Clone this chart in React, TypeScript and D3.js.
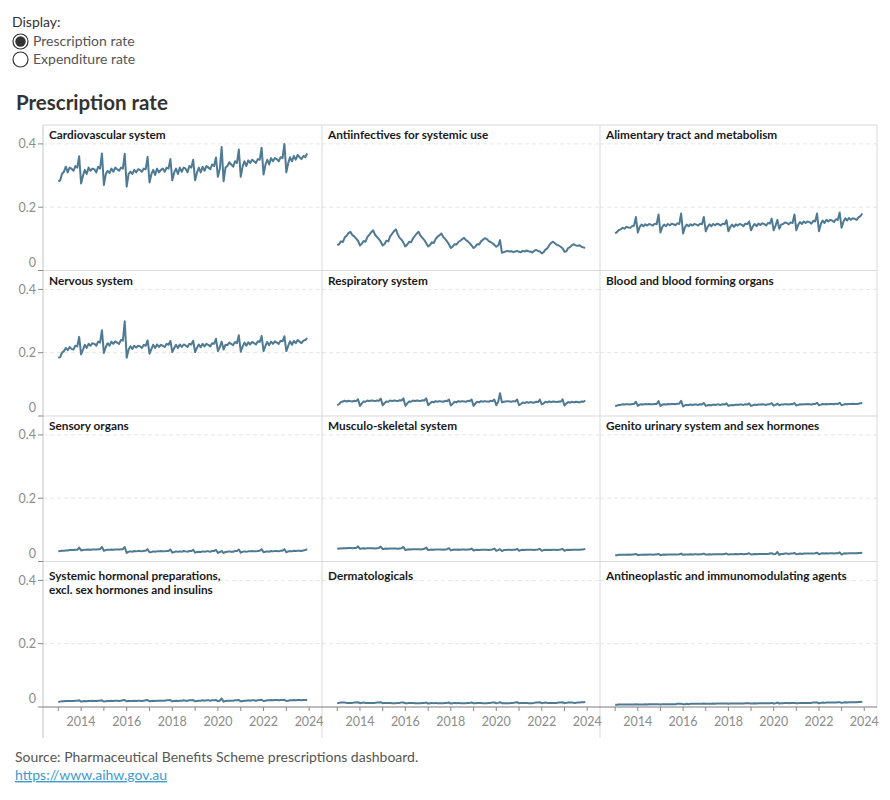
import React from 'react';
import * as d3 from 'd3';

// Monthly prescription rate, Jan 2013 – Dec 2023, one row per year
const cardiovascular = [
  0.282, 0.285, 0.305, 0.312, 0.328, 0.31, 0.325, 0.322, 0.315, 0.33, 0.325, 0.361,
  0.275, 0.3, 0.318, 0.305, 0.325, 0.315, 0.322, 0.32, 0.31, 0.328, 0.322, 0.37,
  0.27, 0.305, 0.315, 0.308, 0.322, 0.312, 0.325, 0.32, 0.315, 0.325, 0.322, 0.369,
  0.265, 0.305, 0.312, 0.305, 0.318, 0.31, 0.32, 0.318, 0.312, 0.322, 0.32, 0.359,
  0.278, 0.305, 0.318, 0.302, 0.322, 0.31, 0.318, 0.322, 0.312, 0.325, 0.322, 0.352,
  0.285, 0.31, 0.322, 0.305, 0.325, 0.312, 0.325, 0.322, 0.31, 0.33, 0.325, 0.35,
  0.285, 0.31, 0.325, 0.31, 0.328, 0.315, 0.33, 0.325, 0.32, 0.335, 0.33, 0.357,
  0.296, 0.322, 0.39, 0.282, 0.325, 0.33, 0.342, 0.335, 0.328, 0.345, 0.34, 0.382,
  0.296, 0.33, 0.345, 0.33, 0.348, 0.34, 0.35, 0.345, 0.34, 0.352, 0.35, 0.388,
  0.303, 0.335, 0.35, 0.335, 0.355, 0.345, 0.355, 0.352, 0.345, 0.358, 0.355, 0.4,
  0.31, 0.34, 0.358, 0.345, 0.362, 0.35, 0.365, 0.358, 0.352, 0.362, 0.358, 0.37,
];

const antiinfectives = [
  0.08, 0.083, 0.092, 0.09, 0.104, 0.11, 0.118, 0.122, 0.112, 0.108, 0.101, 0.094,
  0.079, 0.085, 0.093, 0.091, 0.106, 0.113, 0.121, 0.127, 0.113, 0.106, 0.099, 0.091,
  0.079, 0.084, 0.094, 0.092, 0.108, 0.116, 0.124, 0.13, 0.114, 0.103, 0.097, 0.088,
  0.076, 0.082, 0.091, 0.089, 0.101, 0.109, 0.117, 0.122, 0.11, 0.103, 0.096, 0.086,
  0.076, 0.081, 0.089, 0.087, 0.099, 0.107, 0.111, 0.117, 0.106, 0.1, 0.092, 0.083,
  0.071, 0.076, 0.083, 0.082, 0.09, 0.094, 0.099, 0.103, 0.096, 0.092, 0.086, 0.079,
  0.071, 0.076, 0.083, 0.082, 0.092, 0.097, 0.102, 0.1, 0.093, 0.09, 0.086, 0.081,
  0.075, 0.079, 0.096, 0.056, 0.058, 0.06, 0.062, 0.06, 0.061, 0.058, 0.06, 0.062,
  0.059, 0.058, 0.062, 0.06, 0.063, 0.061, 0.06, 0.057, 0.062, 0.065, 0.062, 0.06,
  0.054, 0.058, 0.066, 0.07, 0.08, 0.087, 0.091, 0.086, 0.081, 0.079, 0.075, 0.07,
  0.059, 0.061, 0.071, 0.074, 0.08, 0.083, 0.079, 0.078, 0.08, 0.075, 0.073, 0.072,
];

const alimentary = [
  0.117, 0.122, 0.128, 0.13, 0.135, 0.132, 0.138, 0.136, 0.135, 0.14, 0.142, 0.169,
  0.12, 0.138, 0.145, 0.14, 0.146, 0.142, 0.147, 0.145, 0.142, 0.148, 0.146, 0.177,
  0.12, 0.138, 0.145, 0.14, 0.147, 0.143, 0.148, 0.146, 0.143, 0.149, 0.147, 0.18,
  0.117, 0.137, 0.145, 0.14, 0.146, 0.142, 0.147, 0.145, 0.142, 0.148, 0.146, 0.169,
  0.124, 0.138, 0.146, 0.14, 0.147, 0.143, 0.148, 0.146, 0.142, 0.148, 0.146, 0.159,
  0.124, 0.138, 0.145, 0.138, 0.146, 0.142, 0.147, 0.145, 0.14, 0.148, 0.146, 0.155,
  0.127, 0.14, 0.147, 0.14, 0.148, 0.144, 0.149, 0.147, 0.142, 0.15, 0.148, 0.164,
  0.127, 0.142, 0.16, 0.132, 0.145, 0.147, 0.152, 0.15, 0.146, 0.152, 0.15, 0.177,
  0.127, 0.145, 0.153, 0.147, 0.155, 0.15, 0.155, 0.153, 0.148, 0.157, 0.155, 0.18,
  0.124, 0.148, 0.158, 0.15, 0.16, 0.155, 0.16, 0.158, 0.153, 0.162, 0.16, 0.183,
  0.135, 0.155, 0.165, 0.158, 0.166, 0.16, 0.165, 0.163, 0.16, 0.168, 0.172, 0.18,
];

const nervous = [
  0.184, 0.186, 0.2, 0.205, 0.215, 0.208, 0.218, 0.212, 0.21, 0.222, 0.22, 0.25,
  0.195, 0.21, 0.225, 0.215, 0.228, 0.222, 0.23, 0.228, 0.222, 0.235, 0.232, 0.271,
  0.199, 0.218, 0.23, 0.222, 0.235, 0.228, 0.236, 0.232, 0.228, 0.24, 0.238, 0.299,
  0.184, 0.21, 0.22, 0.212, 0.222, 0.216, 0.222, 0.22, 0.215, 0.225, 0.222, 0.239,
  0.197, 0.212, 0.225, 0.215, 0.226, 0.218, 0.225, 0.222, 0.218, 0.228, 0.225, 0.237,
  0.202, 0.215, 0.225, 0.215, 0.226, 0.218, 0.226, 0.223, 0.218, 0.228, 0.226, 0.238,
  0.202, 0.216, 0.226, 0.217, 0.228, 0.22, 0.228, 0.225, 0.22, 0.23, 0.228, 0.244,
  0.205, 0.218, 0.235, 0.21, 0.225, 0.224, 0.232, 0.228, 0.224, 0.234, 0.23, 0.255,
  0.203, 0.22, 0.232, 0.222, 0.233, 0.226, 0.234, 0.23, 0.226, 0.236, 0.234, 0.253,
  0.205, 0.222, 0.234, 0.224, 0.235, 0.228, 0.236, 0.232, 0.228, 0.238, 0.236, 0.252,
  0.205, 0.222, 0.236, 0.225, 0.237, 0.23, 0.24, 0.235, 0.23, 0.238, 0.24, 0.246,
];

const respiratory = [
  0.034, 0.038, 0.044, 0.046, 0.048, 0.046, 0.048, 0.047, 0.046, 0.048, 0.047, 0.053,
  0.032, 0.04, 0.046, 0.045, 0.049, 0.047, 0.049, 0.048, 0.047, 0.049, 0.048, 0.055,
  0.034, 0.041, 0.046, 0.045, 0.049, 0.047, 0.049, 0.048, 0.047, 0.05, 0.049, 0.056,
  0.032, 0.04, 0.046, 0.045, 0.049, 0.047, 0.049, 0.048, 0.047, 0.05, 0.049, 0.056,
  0.034, 0.04, 0.045, 0.043, 0.047, 0.045, 0.047, 0.046, 0.045, 0.048, 0.047, 0.052,
  0.033, 0.039, 0.045, 0.043, 0.047, 0.045, 0.047, 0.046, 0.045, 0.048, 0.047, 0.052,
  0.032, 0.04, 0.045, 0.043, 0.047, 0.045, 0.047, 0.046, 0.045, 0.048, 0.047, 0.052,
  0.034, 0.045, 0.072, 0.043, 0.045, 0.046, 0.047, 0.046, 0.045, 0.047, 0.046, 0.052,
  0.034, 0.038, 0.043, 0.041, 0.044, 0.042, 0.044, 0.043, 0.042, 0.045, 0.044, 0.052,
  0.037, 0.04, 0.045, 0.043, 0.046, 0.044, 0.046, 0.045, 0.044, 0.046, 0.045, 0.053,
  0.033, 0.04, 0.044, 0.042, 0.045, 0.043, 0.045, 0.044, 0.043, 0.046, 0.045, 0.049,
];

const blood = [
  0.031, 0.033, 0.035, 0.035, 0.037, 0.036, 0.037, 0.037, 0.036, 0.038, 0.038, 0.045,
  0.032, 0.036, 0.037, 0.036, 0.038, 0.037, 0.038, 0.037, 0.037, 0.038, 0.038, 0.047,
  0.032, 0.036, 0.037, 0.036, 0.038, 0.037, 0.038, 0.038, 0.037, 0.039, 0.039, 0.048,
  0.03, 0.034, 0.035, 0.035, 0.036, 0.035, 0.036, 0.036, 0.035, 0.037, 0.036, 0.041,
  0.032, 0.034, 0.035, 0.034, 0.036, 0.035, 0.036, 0.036, 0.035, 0.037, 0.036, 0.04,
  0.032, 0.034, 0.035, 0.034, 0.036, 0.035, 0.036, 0.036, 0.035, 0.037, 0.036, 0.04,
  0.032, 0.034, 0.036, 0.035, 0.036, 0.036, 0.037, 0.036, 0.035, 0.037, 0.037, 0.041,
  0.033, 0.035, 0.039, 0.034, 0.036, 0.036, 0.037, 0.037, 0.036, 0.038, 0.037, 0.041,
  0.033, 0.035, 0.037, 0.036, 0.037, 0.037, 0.038, 0.037, 0.036, 0.038, 0.038, 0.042,
  0.034, 0.036, 0.038, 0.037, 0.038, 0.037, 0.038, 0.038, 0.037, 0.039, 0.038, 0.042,
  0.034, 0.036, 0.038, 0.037, 0.038, 0.038, 0.039, 0.038, 0.038, 0.039, 0.04, 0.041,
];

const sensory = [
  0.032, 0.033, 0.034, 0.034, 0.035, 0.035, 0.036, 0.036, 0.036, 0.037, 0.037, 0.044,
  0.035, 0.036, 0.037, 0.037, 0.038, 0.037, 0.038, 0.038, 0.038, 0.039, 0.039, 0.046,
  0.034, 0.036, 0.037, 0.037, 0.038, 0.037, 0.038, 0.038, 0.038, 0.039, 0.039, 0.046,
  0.027, 0.031, 0.032, 0.031, 0.033, 0.032, 0.033, 0.033, 0.032, 0.034, 0.034, 0.039,
  0.029, 0.03, 0.032, 0.031, 0.032, 0.032, 0.033, 0.032, 0.032, 0.033, 0.033, 0.038,
  0.028, 0.03, 0.032, 0.031, 0.032, 0.031, 0.033, 0.032, 0.031, 0.033, 0.033, 0.037,
  0.028, 0.03, 0.031, 0.03, 0.032, 0.031, 0.032, 0.032, 0.031, 0.033, 0.033, 0.037,
  0.027, 0.03, 0.033, 0.027, 0.03, 0.031, 0.032, 0.031, 0.031, 0.033, 0.033, 0.038,
  0.028, 0.031, 0.032, 0.031, 0.032, 0.032, 0.033, 0.032, 0.032, 0.033, 0.034, 0.039,
  0.029, 0.031, 0.032, 0.031, 0.033, 0.032, 0.033, 0.033, 0.032, 0.034, 0.034, 0.039,
  0.029, 0.032, 0.033, 0.032, 0.034, 0.033, 0.034, 0.034, 0.033, 0.035, 0.036, 0.039,
];

const musculo = [
  0.04, 0.041, 0.041, 0.042, 0.042, 0.042, 0.043, 0.043, 0.042, 0.043, 0.043, 0.048,
  0.04, 0.041, 0.042, 0.041, 0.042, 0.042, 0.042, 0.042, 0.041, 0.042, 0.043, 0.047,
  0.039, 0.04, 0.041, 0.04, 0.041, 0.041, 0.041, 0.041, 0.04, 0.041, 0.042, 0.046,
  0.036, 0.038, 0.039, 0.038, 0.039, 0.039, 0.039, 0.039, 0.038, 0.039, 0.04, 0.044,
  0.036, 0.037, 0.038, 0.037, 0.038, 0.038, 0.038, 0.038, 0.037, 0.038, 0.039, 0.042,
  0.035, 0.037, 0.038, 0.037, 0.038, 0.037, 0.038, 0.038, 0.037, 0.038, 0.038, 0.041,
  0.035, 0.036, 0.037, 0.036, 0.037, 0.037, 0.037, 0.037, 0.036, 0.037, 0.038, 0.041,
  0.034, 0.036, 0.039, 0.033, 0.036, 0.036, 0.037, 0.037, 0.036, 0.037, 0.037, 0.04,
  0.034, 0.036, 0.037, 0.036, 0.037, 0.037, 0.037, 0.037, 0.036, 0.037, 0.038, 0.04,
  0.034, 0.036, 0.037, 0.036, 0.037, 0.036, 0.037, 0.037, 0.036, 0.037, 0.038, 0.04,
  0.034, 0.036, 0.037, 0.036, 0.037, 0.037, 0.037, 0.037, 0.037, 0.038, 0.038, 0.04,
];

const genitoUrinary = [
  0.02, 0.02, 0.021, 0.021, 0.021, 0.021, 0.021, 0.022, 0.021, 0.022, 0.022, 0.024,
  0.02, 0.021, 0.021, 0.021, 0.022, 0.021, 0.022, 0.022, 0.021, 0.022, 0.022, 0.024,
  0.02, 0.021, 0.022, 0.021, 0.022, 0.022, 0.022, 0.022, 0.022, 0.022, 0.023, 0.025,
  0.021, 0.022, 0.022, 0.022, 0.023, 0.022, 0.023, 0.023, 0.022, 0.023, 0.023, 0.025,
  0.022, 0.022, 0.023, 0.022, 0.023, 0.023, 0.023, 0.023, 0.023, 0.023, 0.024, 0.025,
  0.022, 0.023, 0.023, 0.023, 0.024, 0.023, 0.024, 0.024, 0.023, 0.024, 0.024, 0.026,
  0.022, 0.023, 0.024, 0.023, 0.024, 0.024, 0.024, 0.024, 0.024, 0.024, 0.025, 0.026,
  0.023, 0.024, 0.03, 0.021, 0.024, 0.024, 0.025, 0.025, 0.024, 0.025, 0.025, 0.027,
  0.023, 0.024, 0.025, 0.024, 0.025, 0.025, 0.025, 0.025, 0.025, 0.025, 0.026, 0.028,
  0.023, 0.025, 0.026, 0.025, 0.026, 0.025, 0.026, 0.026, 0.025, 0.026, 0.026, 0.029,
  0.022, 0.025, 0.026, 0.025, 0.026, 0.026, 0.026, 0.026, 0.026, 0.027, 0.027, 0.028,
];

const systemicHormonal = [
  0.016, 0.017, 0.018, 0.018, 0.019, 0.019, 0.019, 0.019, 0.019, 0.02, 0.02, 0.021,
  0.017, 0.018, 0.019, 0.018, 0.019, 0.019, 0.02, 0.019, 0.019, 0.02, 0.02, 0.021,
  0.017, 0.018, 0.019, 0.019, 0.02, 0.019, 0.02, 0.02, 0.019, 0.02, 0.021, 0.022,
  0.018, 0.019, 0.019, 0.019, 0.02, 0.019, 0.02, 0.02, 0.019, 0.02, 0.021, 0.022,
  0.018, 0.019, 0.02, 0.019, 0.02, 0.02, 0.02, 0.02, 0.02, 0.021, 0.021, 0.022,
  0.018, 0.019, 0.02, 0.019, 0.02, 0.02, 0.021, 0.02, 0.02, 0.021, 0.021, 0.022,
  0.018, 0.019, 0.02, 0.02, 0.021, 0.02, 0.021, 0.021, 0.02, 0.021, 0.021, 0.022,
  0.019, 0.02, 0.027, 0.017, 0.019, 0.02, 0.02, 0.02, 0.02, 0.021, 0.021, 0.022,
  0.018, 0.019, 0.02, 0.02, 0.021, 0.02, 0.021, 0.021, 0.02, 0.021, 0.022, 0.023,
  0.019, 0.02, 0.021, 0.021, 0.022, 0.021, 0.022, 0.022, 0.021, 0.022, 0.022, 0.023,
  0.019, 0.02, 0.021, 0.021, 0.022, 0.021, 0.022, 0.022, 0.021, 0.022, 0.022, 0.023,
];

const dermatologicals = [
  0.013, 0.013, 0.014, 0.014, 0.014, 0.013, 0.013, 0.013, 0.013, 0.014, 0.014, 0.015,
  0.012, 0.013, 0.014, 0.013, 0.013, 0.013, 0.013, 0.013, 0.013, 0.014, 0.014, 0.015,
  0.012, 0.013, 0.013, 0.013, 0.013, 0.012, 0.012, 0.012, 0.013, 0.013, 0.014, 0.014,
  0.012, 0.012, 0.013, 0.013, 0.013, 0.012, 0.012, 0.012, 0.012, 0.013, 0.013, 0.014,
  0.011, 0.012, 0.013, 0.012, 0.013, 0.012, 0.012, 0.012, 0.012, 0.013, 0.013, 0.014,
  0.011, 0.012, 0.013, 0.012, 0.013, 0.012, 0.012, 0.012, 0.012, 0.013, 0.013, 0.014,
  0.012, 0.012, 0.013, 0.013, 0.013, 0.012, 0.012, 0.012, 0.013, 0.013, 0.014, 0.014,
  0.012, 0.013, 0.015, 0.012, 0.012, 0.012, 0.012, 0.012, 0.013, 0.013, 0.014, 0.015,
  0.012, 0.013, 0.013, 0.013, 0.013, 0.012, 0.012, 0.012, 0.013, 0.014, 0.014, 0.015,
  0.012, 0.013, 0.014, 0.013, 0.013, 0.013, 0.013, 0.013, 0.013, 0.014, 0.014, 0.015,
  0.012, 0.013, 0.014, 0.014, 0.014, 0.013, 0.013, 0.014, 0.014, 0.015, 0.015, 0.016,
];

const antineoplastic = [
  0.007, 0.007, 0.008, 0.008, 0.008, 0.008, 0.008, 0.008, 0.008, 0.008, 0.008, 0.009,
  0.008, 0.008, 0.008, 0.008, 0.009, 0.008, 0.009, 0.009, 0.009, 0.009, 0.009, 0.009,
  0.008, 0.009, 0.009, 0.009, 0.009, 0.009, 0.009, 0.009, 0.009, 0.01, 0.01, 0.01,
  0.009, 0.009, 0.01, 0.009, 0.01, 0.01, 0.01, 0.01, 0.01, 0.01, 0.01, 0.011,
  0.01, 0.01, 0.01, 0.01, 0.011, 0.01, 0.011, 0.011, 0.011, 0.011, 0.011, 0.011,
  0.01, 0.011, 0.011, 0.011, 0.011, 0.011, 0.011, 0.011, 0.011, 0.012, 0.012, 0.012,
  0.011, 0.011, 0.012, 0.011, 0.012, 0.012, 0.012, 0.012, 0.012, 0.012, 0.012, 0.013,
  0.011, 0.012, 0.014, 0.011, 0.012, 0.012, 0.013, 0.013, 0.012, 0.013, 0.013, 0.013,
  0.012, 0.012, 0.013, 0.013, 0.013, 0.013, 0.013, 0.013, 0.013, 0.014, 0.014, 0.014,
  0.012, 0.013, 0.014, 0.013, 0.014, 0.014, 0.014, 0.014, 0.014, 0.014, 0.015, 0.015,
  0.013, 0.014, 0.015, 0.014, 0.015, 0.015, 0.015, 0.015, 0.015, 0.016, 0.016, 0.017,
];

// Panel headers, laid out row by row (3 per row)
const panelTitles = [
  ['Cardiovascular system'],
  ['Antiinfectives for systemic use'],
  ['Alimentary tract and metabolism'],
  ['Nervous system'],
  ['Respiratory system'],
  ['Blood and blood forming organs'],
  ['Sensory organs'],
  ['Musculo-skeletal system'],
  ['Genito urinary system and sex hormones'],
  ['Systemic hormonal preparations,', 'excl. sex hormones and insulins'],
  ['Dermatologicals'],
  ['Antineoplastic and immunomodulating agents'],
];
const panelSeries = [
  cardiovascular, antiinfectives, alimentary,
  nervous, respiratory, blood,
  sensory, musculo, genitoUrinary,
  systemicHormonal, dermatologicals, antineoplastic,
];

const yTicks = [0, 0.2, 0.4];
const yTickLabels = ['0', '0.2', '0.4'];
const xLabelYears = [2014, 2016, 2018, 2020, 2022, 2024];
const xMinorYears = [2013, 2015, 2017, 2019, 2021, 2023];
const displayOptions = ['Prescription rate', 'Expenditure rate'];

const colEdges = [43, 322, 600, 877];
const rowEdges = [125, 270.5, 416, 561.5, 707];
const LINE = '#4f7a94';
const GRID = '#d9d9d9';
const TICK_TEXT = '#8c8c8c';

const App: React.FC = () => {
  const yMax = (rowEdges[1] - rowEdges[0]) / 316.5;

  const panels = panelSeries.map((values, i) => {
    const r = Math.floor(i / 3);
    const c = i % 3;
    const x = d3
      .scaleTime()
      .domain([new Date(2012, 4, 1), new Date(2024, 6, 25)])
      .range([colEdges[c], colEdges[c + 1]]);
    const y = d3
      .scaleLinear()
      .domain([0, yMax])
      .range([rowEdges[r + 1], rowEdges[r]]);
    const points = values.map((v, m) => ({ date: new Date(2013, m, 1), v }));
    const line = d3
      .line<{ date: Date; v: number }>()
      .x(d => x(d.date))
      .y(d => y(d.v));
    return { r, c, x, y, path: line(points) ?? '', title: panelTitles[i] };
  });

  return (
    <svg
      width={890}
      height={800}
      style={{ position: 'absolute', left: 0, top: 0, fontFamily: 'Lato, sans-serif' }}
    >
      <rect width={890} height={800} fill="#fff" />

      {/* parameter control */}
      <text x={12} y={27} fontSize={14} fill="#333">Display:</text>
      {displayOptions.map((label, i) => (
        <g key={label}>
          <circle cx={20.5} cy={41.5 + i * 18} r={7.5} fill="#fff" stroke="#333" strokeWidth={1.2} />
          {i === 0 && <circle cx={20.5} cy={41.5} r={5.2} fill="#333" />}
          <text x={33} y={41.5 + i * 18} dy="0.35em" fontSize={14} fill="#555">{label}</text>
        </g>
      ))}

      <text x={16} y={110} fontSize={20.5} fontWeight={700} fill="#333">Prescription rate</text>

      {/* gridlines */}
      {panels.map((p, i) =>
        yTicks.slice(1).map(t => (
          <line
            key={`g${i}-${t}`}
            x1={colEdges[p.c]}
            x2={colEdges[p.c + 1]}
            y1={p.y(t)}
            y2={p.y(t)}
            stroke="#e6e6e6"
            strokeDasharray="4,3"
          />
        ))
      )}

      {/* panel frame */}
      {rowEdges.slice(0, 4).map(yy => (
        <line key={`h${yy}`} x1={colEdges[0]} x2={colEdges[3]} y1={yy} y2={yy} stroke={GRID} />
      ))}
      {colEdges.map((xx, i) => (
        <line
          key={`v${xx}`}
          x1={xx}
          x2={xx}
          y1={rowEdges[0]}
          y2={i === 3 ? rowEdges[4] : 738}
          stroke={i === 0 ? '#c4c4c4' : GRID}
        />
      ))}

      {/* lines */}
      {panels.map((p, i) => (
        <path key={`l${i}`} d={p.path} fill="none" stroke={LINE} strokeWidth={2} strokeLinejoin="round" />
      ))}

      {/* panel headers */}
      {panels.map((p, i) => (
        <text
          key={`t${i}`}
          x={colEdges[p.c] + 6}
          y={rowEdges[p.r] + (p.title.length > 1 || p.r === 3 ? 18 : 14)}
          fontSize={11.8}
          fontWeight={700}
          fill="#1a1a1a"
        >
          {p.title.map((s, k) => (
            <tspan key={k} x={colEdges[p.c] + 6} dy={k === 0 ? 0 : 14.5}>{s}</tspan>
          ))}
        </text>
      ))}

      {/* y axis */}
      {panels
        .filter(p => p.c === 0)
        .map(p =>
          yTicks.map((t, k) => (
            <g key={`y${p.r}-${t}`}>
              <line x1={38} x2={43} y1={p.y(t)} y2={p.y(t)} stroke="#888" />
              <text
                x={36}
                y={p.y(t) - (t === 0 ? 8 : 0)}
                dy="0.35em"
                textAnchor="end"
                fontSize={12.5}
                fill={TICK_TEXT}
              >
                {yTickLabels[k]}
              </text>
            </g>
          ))
        )}

      {/* x axis */}
      <line x1={colEdges[0]} x2={colEdges[3]} y1={rowEdges[4]} y2={rowEdges[4]} stroke="#7a7a7a" />
      {panels
        .filter(p => p.r === 3)
        .map(p => (
          <g key={`x${p.c}`}>
            {[...xLabelYears, ...xMinorYears].map(yr => (
              <line
                key={`xt${yr}`}
                x1={p.x(new Date(yr, 0, 1))}
                x2={p.x(new Date(yr, 0, 1))}
                y1={rowEdges[4]}
                y2={rowEdges[4] + 4}
                stroke="#888"
              />
            ))}
            {xLabelYears.map(yr => (
              <text
                key={`xl${yr}`}
                x={p.x(new Date(yr, 0, 1))}
                y={722}
                dy="0.35em"
                textAnchor="middle"
                fontSize={12.5}
                fill={TICK_TEXT}
              >
                {yr}
              </text>
            ))}
          </g>
        ))}

      {/* footer */}
      <text x={15} y={762} fontSize={14} fill="#555">
        Source: Pharmaceutical Benefits Scheme prescriptions dashboard.
      </text>
      <text x={15} y={780} fontSize={14} fill="#3d9bd0" textDecoration="underline">
        https://www.aihw.gov.au
      </text>
    </svg>
  );
};

export default App;
